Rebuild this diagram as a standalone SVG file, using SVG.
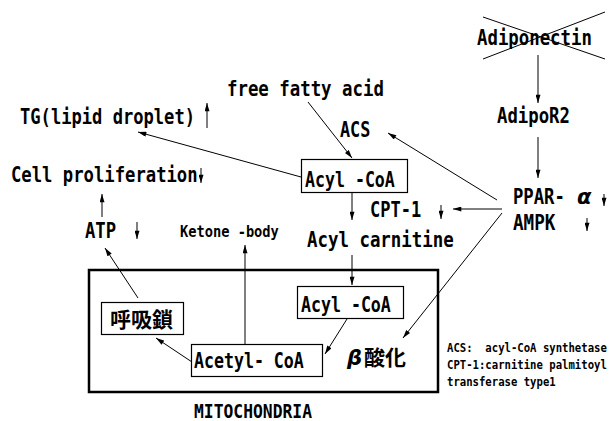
<svg xmlns="http://www.w3.org/2000/svg" width="614" height="421" viewBox="0 0 614 421">
<defs>
<marker id="ah" viewBox="0 0 10 6" refX="10" refY="3" markerWidth="9" markerHeight="5" markerUnits="userSpaceOnUse" orient="auto">
<path d="M0,0 L10,3 L0,6 z" fill="#000"/>
</marker>
<style>
text{font-family:"DejaVu Sans Mono","Liberation Mono",monospace;font-weight:bold;fill:#000;font-size:22px}
.s{font-size:16px}
.l{font-size:13px;white-space:pre}
.j{font-family:"Noto Sans CJK JP",sans-serif;font-size:21px}
.g{font-family:"DejaVu Sans","Liberation Sans",sans-serif;font-style:italic;font-size:21px}
.c line{stroke:#000;stroke-width:1;marker-end:url(#ah)}
.b{fill:#fff;stroke:#000;stroke-width:1.2}
.x{stroke:#000;stroke-width:1}
</style>
</defs>
<rect width="614" height="421" fill="#fff"/>

<g id="adiponectin">
<text transform="matrix(0.789 0 0 1 477 45)">Adiponectin</text>
<line class="x" x1="483" y1="17" x2="605" y2="59"/>
<line class="x" x1="483" y1="59" x2="605" y2="12"/>
</g>
<g id="adipor2"><text transform="matrix(0.787 0 0 1 497 123)">AdipoR2</text></g>
<g id="ppar">
<text transform="matrix(0.783 0 0 1 513 204)">PPAR-</text>
<text class="g" x="577" y="204">α</text>
</g>
<g id="ampk"><text transform="matrix(0.8 0 0 1 513 230)">AMPK</text></g>
<g id="ffa"><text transform="matrix(0.79 0 0 1 227 96)">free fatty acid</text></g>
<g id="acs"><text transform="matrix(0.764 0 0 1 340 137)">ACS</text></g>
<g id="tg"><text transform="matrix(0.778 0 0 1 20 124)">TG(lipid droplet)</text></g>
<g id="cellprolif"><text transform="matrix(0.783 0 0 1 11 182)">Cell proliferation</text></g>
<g id="acylcoa1">
<rect class="b" x="301.5" y="159.5" width="106" height="33"/>
<text transform="matrix(0.754 0 0 1 305 187)">Acyl -CoA</text>
</g>
<g id="cpt1"><text transform="matrix(0.773 0 0 1 370 217)">CPT-1</text></g>
<g id="acylcarnitine"><text transform="matrix(0.792 0 0 1 307 247)">Acyl carnitine</text></g>
<g id="ketone"><text class="s" transform="matrix(0.856 0 0 1 180 237)">Ketone -body</text></g>
<g id="atp"><text transform="matrix(0.783 0 0 1 85 238)">ATP</text></g>

<g id="mitochondria">
<rect x="89" y="270" width="349" height="122" fill="none" stroke="#000" stroke-width="2.5"/>
<text transform="matrix(0.817 0 0 1 194 418)" style="font-size:20px">MITOCHONDRIA</text>
</g>
<g id="kokyusa">
<rect class="b" x="101.5" y="302.5" width="82" height="32"/>
<text class="j" x="110" y="327">呼吸鎖</text>
</g>
<g id="acylcoa2">
<rect class="b" x="297.5" y="286.5" width="106" height="32"/>
<text transform="matrix(0.754 0 0 1 301 312)">Acyl -CoA</text>
</g>
<g id="acetylcoa">
<rect class="b" x="191.5" y="344.5" width="131" height="32"/>
<text transform="matrix(0.754 0 0 1 194 368)">Acetyl- CoA</text>
</g>
<g id="betaox">
<text class="g" x="347" y="365">β</text>
<text class="j" x="364" y="365">酸化</text>
</g>

<g id="legend">
<text class="l" xml:space="preserve" transform="matrix(0.818 0 0 1 447 352)">ACS:  acyl-CoA synthetase</text>
<text class="l" transform="matrix(0.818 0 0 1 447 369)">CPT-1:carnitine palmitoyl</text>
<text class="l" transform="matrix(0.818 0 0 1 447 386)">transferase type1</text>
</g>

<g id="connectors" class="c">
<line x1="538" y1="55" x2="538" y2="103"/>
<line x1="538" y1="137" x2="538" y2="178"/>
<line x1="308" y1="102" x2="352" y2="158"/>
<line x1="497" y1="200" x2="388" y2="133"/>
<line x1="301" y1="177" x2="138" y2="132"/>
<line x1="352" y1="193" x2="352" y2="220"/>
<line x1="502" y1="209" x2="453" y2="209"/>
<line x1="502" y1="213" x2="403" y2="338"/>
<line x1="352" y1="255" x2="352" y2="285"/>
<line x1="347" y1="319" x2="325" y2="354"/>
<line x1="192" y1="362" x2="156" y2="338"/>
<line x1="245" y1="344" x2="245" y2="245"/>
<line x1="138" y1="298" x2="105" y2="248"/>
<line x1="102" y1="217" x2="102" y2="194"/>
<line x1="207" y1="128" x2="207" y2="103"/>
<line x1="201" y1="168" x2="201" y2="183"/>
<line x1="137" y1="222" x2="137" y2="239"/>
<line x1="441" y1="205" x2="441" y2="219"/>
<line x1="604" y1="194" x2="604" y2="206"/>
<line x1="587" y1="218" x2="587" y2="231"/>
</g>
</svg>
